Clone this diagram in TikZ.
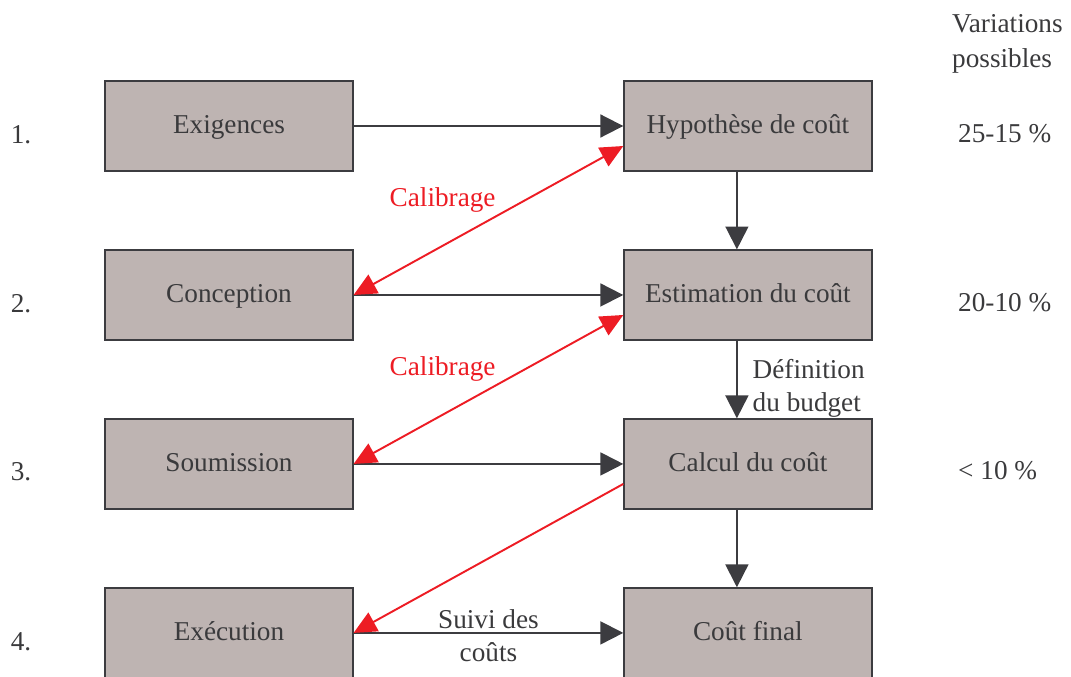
\documentclass[tikz,border=0pt]{standalone}
\usepackage{fontspec}
\setmainfont{Liberation Serif}
\usetikzlibrary{positioning, arrows.meta}
\definecolor{boxgray}{RGB}{190,180,178}
\definecolor{linegray}{RGB}{60,60,64}
\definecolor{txtgray}{RGB}{58,58,60}
\definecolor{calred}{RGB}{237,28,36}
\begin{document}
\begin{tikzpicture}[x=0.02cm, y=-0.02cm, on grid, node distance={3.38cm},
  main/.style = {draw=linegray, line width=0.7pt, fill=boxgray, minimum width=4.96cm, minimum height=1.8cm, inner sep=0pt, text height=10.5pt, text depth=1.5pt, text=txtgray, font=\fontsize{15.5}{19}\selectfont},
  lbl/.style = {text=txtgray, font=\fontsize{15.5}{19}\selectfont, align=center},
  redlbl/.style = {text=calred, font=\fontsize{15.5}{19}\selectfont},
  flow/.style = {draw=linegray, line width=1.1pt, -{Triangle[length=13pt, width=13pt]}},
  calib/.style = {draw=calred, line width=1.1pt, {Triangle[length=13pt, width=12pt]}-{Triangle[length=13pt, width=12pt]}},
  calibone/.style = {draw=calred, line width=1.1pt, -{Triangle[length=13pt, width=12pt]}}]
\useasboundingbox (0,0) rectangle (1071,676);

\node[main] (1) at (229,126) {Exigences};
\node[main] (2) [below=of 1] {Conception};
\node[main] (3) [below=of 2] {Soumission};
\node[main] (4) [below=of 3] {Exécution};

\node[main] (5) [right=10.38cm of 1] {Hypothèse de coût};
\node[main] (6) [below=of 5] {Estimation du coût};
\node[main] (7) [below=of 6] {Calcul du coût};
\node[main] (8) [below=of 7] {Coût final};

% numeros et variations
\node[lbl] (n1) at (21,135) {1.};
\node[lbl] (n2) at (21,304) {2.};
\node[lbl] (n3) at (21,472) {3.};
\node[lbl] (n4) at (21,642) {4.};

\node[lbl, anchor=west, align=left, font=\fontsize{15.5}{20}\selectfont] (var) at (946,44) {Variations\\possibles};
\node[lbl, anchor=west] (v1) at (952,134) {25-15 \%};
\node[lbl, anchor=west] (v2) at (952,303) {20-10 \%};
\node[lbl, anchor=west] (v3) at (952,471) {< 10 \%};

\draw[flow] (1) -- (5);
\draw[flow] (2) -- (6);
\draw[flow] (3) -- (7);
\draw[flow] (4) -- node[midway, lbl, yshift=-0.05cm] {Suivi des\\coûts} (8);

\draw[flow] ([xshift=-0.22cm]5.south) -- ([xshift=-0.22cm]6.north);
\draw[flow] ([xshift=-0.22cm]6.south) -- node[midway, lbl, right, align=left, xshift=0.18cm, yshift=-0.18cm] {Définition\\du budget} ([xshift=-0.22cm]7.north);
\draw[flow] ([xshift=-0.22cm]7.south) -- ([xshift=-0.22cm]8.north);

\draw[calib] (2.east) -- node[pos=0.33, redlbl, yshift=0.92cm] {Calibrage} ([yshift=-0.4cm]5.west);
\draw[calib] (3.east) -- node[pos=0.33, redlbl, yshift=0.92cm] {Calibrage} ([yshift=-0.4cm]6.west);
\draw[calibone] ([yshift=-0.4cm]7.west) -- (4.east);

\end{tikzpicture}
\end{document}
